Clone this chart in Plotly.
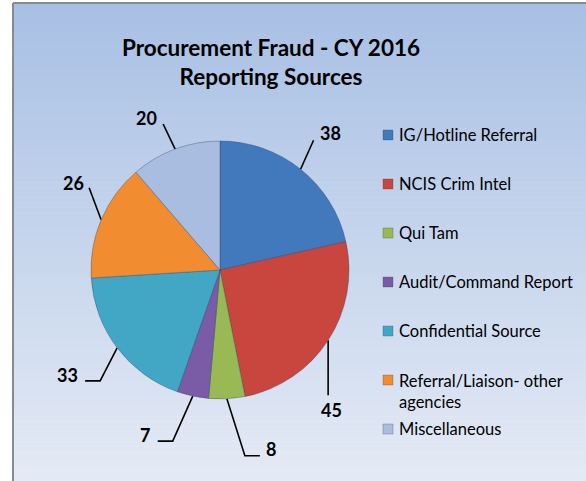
import math
import plotly.graph_objects as go

# ---- data ----
categories = ["IG/Hotline Referral", "NCIS Crim Intel", "Qui Tam", "Audit/Command Report",
              "Confidential Source", "Referral/Liaison- other<br>agencies", "Miscellaneous"]
values = [38, 45, 8, 7, 33, 26, 20]
colors = ["#4279BD", "#C9463F", "#98B954", "#7A5CA6", "#41A7C4", "#F28C30", "#A9BDE0"]

W, H = 586, 481
CX, CY, R = 220, 270, 129  # pie centre / radius in px

# leader styling per slice: (elbow dx, elbow dy, tail dx, label dx, label dy)
leaders = [
    (13, -29, 0, 17, -7),
    (0, 55, 0, 3, 15),
    (18, 57, 15, 11, -7),
    (-20, 45, -15, -13, -6),
    (-17, 33, -15, -18, -6),
    (-12, -32, 0, -16, -5),
    (-12, -25, 0, -17, -6),
]

fig = go.Figure()

fig.add_trace(go.Pie(
    labels=[c.replace("<br>", " ") for c in categories], values=values,
    sort=False, direction="clockwise", rotation=0,
    marker=dict(colors=colors, line=dict(color="rgba(40,60,90,0.35)", width=1)),
    textinfo="none", hoverinfo="label+value", showlegend=False,
    domain=dict(x=[(CX - R) / W, (CX + R) / W],
                y=[(H - CY - R) / H, (H - CY + R) / H]),
))

total = sum(values)
annotations = []
cum = 0
for v, (ex, ey, tx, lx, ly) in zip(values, leaders):
    mid = (cum + v / 2) / total * 2 * math.pi
    cum += v
    x0 = CX + R * math.sin(mid)
    y0 = CY - R * math.cos(mid)
    x1, y1 = x0 + ex, y0 + ey
    x2, y2 = x1 + tx, y1
    fig.add_trace(go.Scatter(x=[x0, x1, x2], y=[y0, y1, y2], mode="lines",
                             line=dict(color="black", width=1.6),
                             hoverinfo="skip", showlegend=False))
    annotations.append(dict(x=x2 + lx, y=y2 + ly, xref="x", yref="y", text=str(v),
                            showarrow=False, xanchor="center", yanchor="middle",
                            font=dict(family="Lato", size=18, color="black", weight="bold")))

# manual legend
LEG_X, LEG_Y0, LEG_STEP, SQ = 383, 135, 49, 10
shapes = []
# background gradient + frame
top = (168, 192, 228)
bot = (228, 234, 245)
N = 96
x_left, y_top = 13, 3
for i in range(N):
    t = i / (N - 1)
    c = tuple(round(top[k] + (bot[k] - top[k]) * t) for k in range(3))
    ya = y_top + (H - y_top) * i / N
    yb = y_top + (H - y_top) * (i + 1) / N + 0.6
    shapes.append(dict(type="rect", xref="x", yref="y", x0=x_left, x1=W, y0=ya, y1=yb,
                       fillcolor="rgb(%d,%d,%d)" % c, line=dict(width=0), layer="below"))
shapes.append(dict(type="line", xref="x", yref="y", x0=x_left, x1=x_left, y0=y_top, y1=H,
                   line=dict(color="#8a8a8a", width=2), layer="below"))
shapes.append(dict(type="line", xref="x", yref="y", x0=x_left, x1=W, y0=y_top, y1=y_top,
                   line=dict(color="#8a8a8a", width=2), layer="below"))

for i, (cat, col) in enumerate(zip(categories, colors)):
    yc = LEG_Y0 + i * LEG_STEP
    shapes.append(dict(type="rect", xref="x", yref="y", x0=LEG_X, x1=LEG_X + SQ,
                       y0=yc - SQ / 2, y1=yc + SQ / 2, fillcolor=col,
                       line=dict(color="rgba(60,60,60,0.35)", width=0.8)))
    two = "<br>" in cat
    annotations.append(dict(x=LEG_X + SQ + 4, y=yc, xref="x", yref="y", text=cat,
                            showarrow=False, xanchor="left", yanchor="top" if two else "middle",
                            yshift=11 if two else 0, align="left",
                            font=dict(family="Lato", size=16.5, color="black")))

annotations.append(dict(x=271, y=62, xref="x", yref="y",
                        text="<b>Procurement Fraud - CY 2016</b><br><b>Reporting Sources</b>",
                        showarrow=False, xanchor="center", yanchor="middle",
                        font=dict(family="Lato", size=22.5, color="black")))

fig.update_layout(
    width=W, height=H, margin=dict(l=0, r=0, t=0, b=0),
    paper_bgcolor="white", plot_bgcolor="rgba(0,0,0,0)",
    xaxis=dict(range=[0, W], visible=False, fixedrange=True),
    yaxis=dict(range=[H, 0], visible=False, fixedrange=True),
    shapes=shapes, annotations=annotations, showlegend=False,
)

fig.write_html("out.html", config={"displayModeBar": False},
               post_script="document.body.style.margin='0';document.body.style.overflow='hidden';")
